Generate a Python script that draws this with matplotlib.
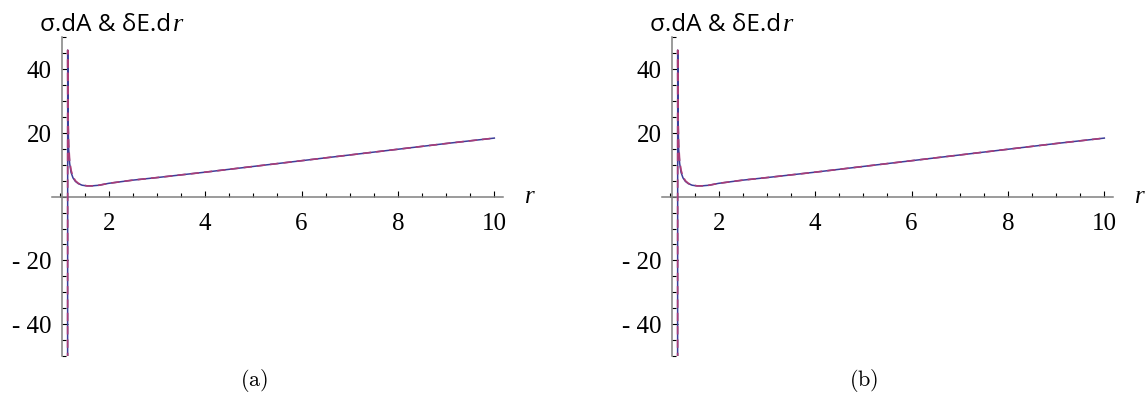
import matplotlib
matplotlib.use("Agg")
import matplotlib.pyplot as plt
from matplotlib.ticker import MultipleLocator, FixedLocator, FixedFormatter

plt.rcParams['mathtext.fontset'] = 'cm'

# values (same curves in both panels)
r_vals = [1.148, 1.150, 1.152, 1.158, 1.17, 1.19, 1.22, 1.26, 1.31, 1.37, 1.45,
          1.55, 1.65, 1.8, 2.0, 2.5, 3.0, 4.0, 5.0, 6.0, 7.0, 8.0, 9.0, 10.0]
sigma_dA = [-60.0, 46.0, 36.0, 24.0, 15.0, 10.5, 7.6, 5.9, 4.8, 4.1, 3.6,
            3.4, 3.4, 3.6, 4.2, 5.2, 6.0, 7.7, 9.5, 11.3, 13.1, 14.9, 16.7, 18.4]
dE_dr = [-60.0, 46.0, 37.0, 25.5, 16.5, 11.5, 8.3, 6.3, 5.0, 4.2, 3.7,
         3.4, 3.4, 3.6, 4.2, 5.2, 6.0, 7.7, 9.5, 11.3, 13.1, 14.9, 16.7, 18.4]

y_ticks = [-40, -20, 20, 40]
y_labels = ['- 40', '- 20', '20', '40']
x_ticks = [2, 4, 6, 8, 10]
captions = ['(a)', '(b)']

W, H = 1145, 396
fig = plt.figure(figsize=(W / 100, H / 100), dpi=100)

blue = '#3d3d99'
red = '#a83d78'
grey = '#808080'


def make_panel(dx, cap):
    # axes box in pixels: x 51.8..503, y 37.45..355.95 (from top)
    left = (51.8 + dx) / W
    width = 451.2 / W
    bottom = (H - 355.95) / H
    height = 318.5 / H
    ax = fig.add_axes([left, bottom, width, height])
    ax.set_xlim(0.82, 10.18)
    ax.set_ylim(-50, 50)

    ax.plot(r_vals, sigma_dA, color=blue, lw=1.1, zorder=3)
    ax.plot(r_vals, dE_dr, color=red, lw=1.2, dashes=(5, 3), zorder=4)

    for s in ['top', 'right']:
        ax.spines[s].set_visible(False)
    ax.spines['left'].set_position(('data', 1.025))
    ax.spines['bottom'].set_position(('data', 0))
    for s in ['left', 'bottom']:
        ax.spines[s].set_color(grey)
        ax.spines[s].set_linewidth(1.1)

    ax.xaxis.set_major_locator(FixedLocator(x_ticks))
    ax.xaxis.set_minor_locator(MultipleLocator(0.5))
    ax.yaxis.set_major_locator(FixedLocator(y_ticks))
    ax.yaxis.set_major_formatter(FixedFormatter(y_labels))
    ax.yaxis.set_minor_locator(MultipleLocator(5))

    ax.tick_params(which='both', direction='in', color='black', width=0.8)
    ax.tick_params(which='major', length=4.5)
    ax.tick_params(which='minor', length=3)
    ax.tick_params(axis='x', which='major', pad=12, labelsize=18)
    ax.tick_params(axis='y', which='major', pad=7, labelsize=18)
    for lab in ax.get_xticklabels() + ax.get_yticklabels():
        lab.set_family('Liberation Serif')

    ax.text(10.74, 0, 'r', family='Liberation Serif', style='italic',
            fontsize=18, ha='center', va='center', clip_on=False)
    ax.patch.set_visible(False)

    # title
    t = fig.text((40 + dx) / W, (H - 30.7) / H, 'σ.dA & δE.d', family='Open Sans',
                 fontsize=17.5, va='baseline', ha='left')
    fig.canvas.draw()
    bb = t.get_window_extent()
    fig.text((bb.x1 + 2) / W, (H - 30.7) / H, 'r', family='Liberation Serif',
             style='italic', fontsize=19, va='baseline', ha='left')

    fig.text((254 + dx) / W, (H - 381) / H, r'$\mathrm{' + cap + '}$',
             fontsize=16, ha='center', va='center')


make_panel(0, captions[0])
make_panel(610, captions[1])

fig.savefig('out.png', dpi=100)
